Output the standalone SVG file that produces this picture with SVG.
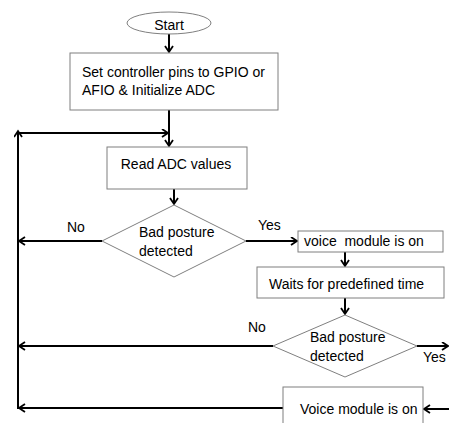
<svg xmlns="http://www.w3.org/2000/svg" width="449" height="423" viewBox="0 0 449 423">
<style>
.box{fill:#fff;stroke:#7f7f7f;stroke-width:1}
.t{font-family:"Liberation Sans",Arial,sans-serif;font-size:14px;fill:#000;white-space:pre}
.c{fill:none;stroke:#000;stroke-width:2;marker-end:url(#ah)}
</style>
<defs>
<marker id="ah" markerUnits="userSpaceOnUse" markerWidth="10" markerHeight="10" refX="7" refY="4.5" orient="auto" viewBox="0 0 10 10">
<path d="M1,0.5 L7,4.5 L1,8.5" fill="none" stroke="#000" stroke-width="1.8"/>
</marker>
</defs>
<rect width="449" height="423" fill="#fff"/>
<g id="connectors">
<path class="c" d="M169,34 V52"/>
<path class="c" d="M169,110 V146"/>
<path class="c" d="M18,409 V131"/>
<path class="c" d="M18,133 H168"/>
<path class="c" d="M174,189 V204"/>
<path class="c" d="M102,241 H19"/>
<path class="c" d="M246,241 H297"/>
<path class="c" d="M345,252 V266"/>
<path class="c" d="M345,298 V314"/>
<path class="c" d="M273,346 H19"/>
<path class="c" d="M417,346 H448"/>
<path class="c" d="M449,409 H424"/>
<path class="c" d="M283,408 H19"/>
</g>
<g id="start">
<ellipse class="box" cx="169" cy="23" rx="42" ry="11"/>
<text class="t" x="169" y="30" font-size="15" text-anchor="middle">Start</text>
</g>
<g id="init">
<rect class="box" x="70" y="53" width="208" height="57"/>
<text class="t" x="82" y="77">Set controller pins to GPIO or</text>
<text class="t" x="82" y="95">AFIO &amp; Initialize ADC</text>
</g>
<g id="read">
<rect class="box" x="107" y="147" width="140" height="42"/>
<text class="t" x="176" y="169" text-anchor="middle">Read ADC values</text>
</g>
<g id="decision1">
<polygon class="box" points="174,205 246,241 174,277 102,241"/>
<text class="t" x="139" y="237">Bad posture</text>
<text class="t" x="139" y="256">detected</text>
</g>
<g id="voice1">
<rect class="box" x="298" y="231" width="145" height="21"/>
<text class="t" x="304" y="246" xml:space="preserve">voice  module is on</text>
</g>
<g id="wait">
<rect class="box" x="257" y="267" width="187" height="31"/>
<text class="t" x="269" y="289">Waits for predefined time</text>
</g>
<g id="decision2">
<polygon class="box" points="345,315 417,346 345,377 273,346"/>
<text class="t" x="310" y="342">Bad posture</text>
<text class="t" x="310" y="361">detected</text>
</g>
<g id="voice2">
<rect class="box" x="283" y="387" width="140" height="45"/>
<text class="t" x="300" y="414">Voice module is on</text>
</g>
<g id="labels">
<text class="t" x="67" y="232">No</text>
<text class="t" x="258" y="230">Yes</text>
<text class="t" x="248" y="332">No</text>
<text class="t" x="423" y="362">Yes</text>
</g>
</svg>
